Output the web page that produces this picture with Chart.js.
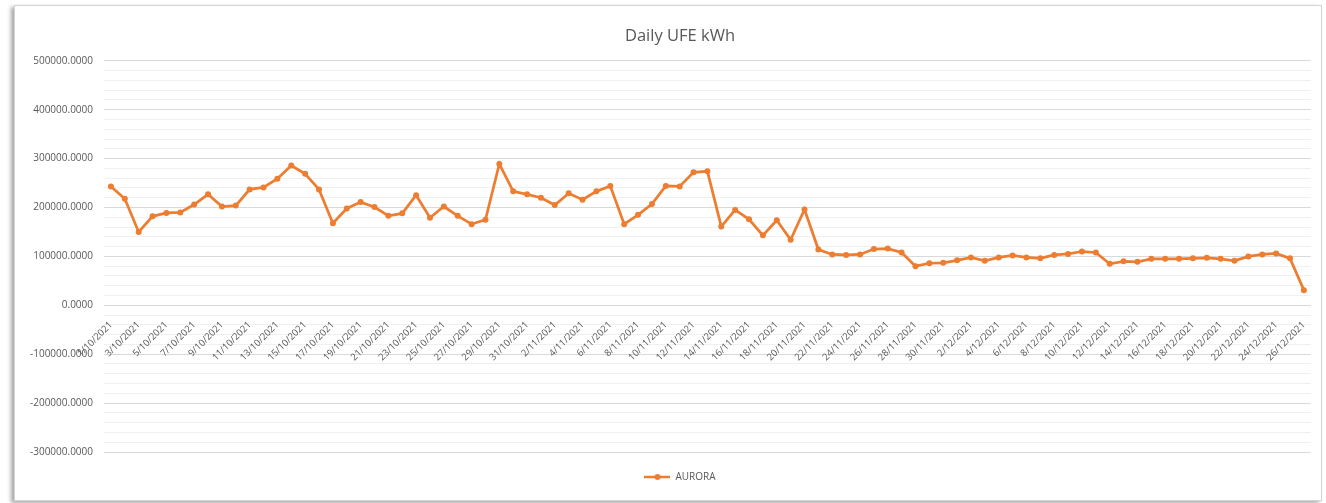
<!DOCTYPE html>
<html><head><meta charset="utf-8">
<script src="https://cdn.jsdelivr.net/npm/chart.js@4.4.1/dist/chart.umd.min.js"></script>
<style>
html,body{margin:0;padding:0;background:#fff;width:1326px;height:503px;overflow:hidden;}
#frame{position:absolute;left:14px;top:5px;width:1306px;height:494px;border:1px solid #d4d4d4;box-shadow:-3px 2px 4px rgba(0,0,0,0.35);background:#fff;}
#wrap{position:absolute;left:0;top:0;width:1326px;height:503px;}
</style></head>
<body><div id="frame"></div><div id="wrap"><canvas id="c"></canvas></div>
<script>
const titleText = 'Daily UFE kWh';
const seriesName = 'AURORA';
const categories = [
 '1/10/2021','2/10/2021','3/10/2021','4/10/2021','5/10/2021','6/10/2021','7/10/2021','8/10/2021','9/10/2021','10/10/2021',
 '11/10/2021','12/10/2021','13/10/2021','14/10/2021','15/10/2021','16/10/2021','17/10/2021','18/10/2021','19/10/2021','20/10/2021',
 '21/10/2021','22/10/2021','23/10/2021','24/10/2021','25/10/2021','26/10/2021','27/10/2021','28/10/2021','29/10/2021','30/10/2021','31/10/2021',
 '1/11/2021','2/11/2021','3/11/2021','4/11/2021','5/11/2021','6/11/2021','7/11/2021','8/11/2021','9/11/2021','10/11/2021',
 '11/11/2021','12/11/2021','13/11/2021','14/11/2021','15/11/2021','16/11/2021','17/11/2021','18/11/2021','19/11/2021','20/11/2021',
 '21/11/2021','22/11/2021','23/11/2021','24/11/2021','25/11/2021','26/11/2021','27/11/2021','28/11/2021','29/11/2021','30/11/2021',
 '1/12/2021','2/12/2021','3/12/2021','4/12/2021','5/12/2021','6/12/2021','7/12/2021','8/12/2021','9/12/2021','10/12/2021',
 '11/12/2021','12/12/2021','13/12/2021','14/12/2021','15/12/2021','16/12/2021','17/12/2021','18/12/2021','19/12/2021','20/12/2021',
 '21/12/2021','22/12/2021','23/12/2021','24/12/2021','25/12/2021','26/12/2021'
];
const octValues = [243000,218000,150000,182000,189000,190000,206000,227000,202000,204000,
 237000,241000,259000,286000,269000,237000,168000,198000,211000,201000,
 183000,188000,225000,179000,202000,183000,166000,175000,289000,233000,227000];
const novValues = [220000,205000,229000,216000,233000,244000,166000,185000,207000,244000,
 243000,272000,274000,161000,195000,176000,143000,174000,134000,196000,
 114000,104000,103000,104000,115000,116000,108000,80000,86000,87000];
const decValues = [92000,98000,91000,98000,102000,98000,96000,103000,105000,110000,
 108000,85000,90000,89000,95000,95000,95000,96000,97000,95000,
 91000,100000,104000,106000,96000,31000];
const values = octValues.concat(novValues, decValues);
const yMin = -300000, yMax = 500000, yMajor = 100000, yMinor = 20000;

const ORANGE = '#ED7D31';
const icon = document.createElement('canvas');
icon.width = 26; icon.height = 8;
(function(){
  const g = icon.getContext('2d');
  g.strokeStyle = ORANGE; g.lineWidth = 2.5;
  g.beginPath(); g.moveTo(0,4); g.lineTo(26,4); g.stroke();
  g.fillStyle = ORANGE; g.beginPath(); g.arc(13,4,3,0,Math.PI*2); g.fill();
})();

const FONT = 'Open Sans';
new Chart(document.getElementById('c'), {
  type: 'line',
  data: {
    labels: categories,
    datasets: [{
      label: seriesName,
      data: values,
      borderColor: ORANGE,
      backgroundColor: ORANGE,
      borderWidth: 2.75,
      pointRadius: 3,
      pointBorderWidth: 0,
      pointBackgroundColor: ORANGE,
      tension: 0
    }]
  },
  options: {
    responsive: true,
    maintainAspectRatio: false,
    animation: false,
    layout: { padding: { left: 44, right: 10, top: 0, bottom: 11 } },
    plugins: {
      title: {
        display: true, text: titleText, color: '#595959',
        font: { family: FONT, size: 16.5, weight: 'normal' },
        padding: { top: 26, bottom: 15 }
      },
      legend: {
        position: 'bottom',
        labels: {
          usePointStyle: true, pointStyle: icon, pointStyleWidth: 26, boxHeight: 10,
          padding: 20, color: '#595959',
          font: { family: FONT, size: 10 }
        }
      },
      tooltip: { enabled: false }
    },
    scales: {
      x: {
        position: { y: 0 },
        offset: true,
        grid: { display: false, drawTicks: false },
        border: { color: '#d9d9d9' },
        ticks: {
          autoSkip: false, minRotation: 45, maxRotation: 45, padding: 14,
          color: '#595959', font: { family: FONT, size: 9.5 },
          callback: function(v, i) { return i % 2 === 0 ? this.getLabelForValue(v) : ''; }
        }
      },
      y: {
        min: yMin, max: yMax,
        afterFit: function(s) { s.width = 60; s._computeLabelArea = function() { return undefined; }; },
        border: { display: false },
        grid: {
          drawTicks: false,
          color: function(ctx) { return (ctx.tick && ctx.tick.value % yMajor === 0) ? '#d9d9d9' : '#f0f0f0'; }
        },
        ticks: {
          stepSize: yMinor, autoSkip: false, padding: 11,
          color: '#595959', font: { family: FONT, size: 10 },
          callback: function(v) { return v % yMajor === 0 ? v.toFixed(4) : ''; }
        }
      }
    }
  }
});
</script>
</body></html>
